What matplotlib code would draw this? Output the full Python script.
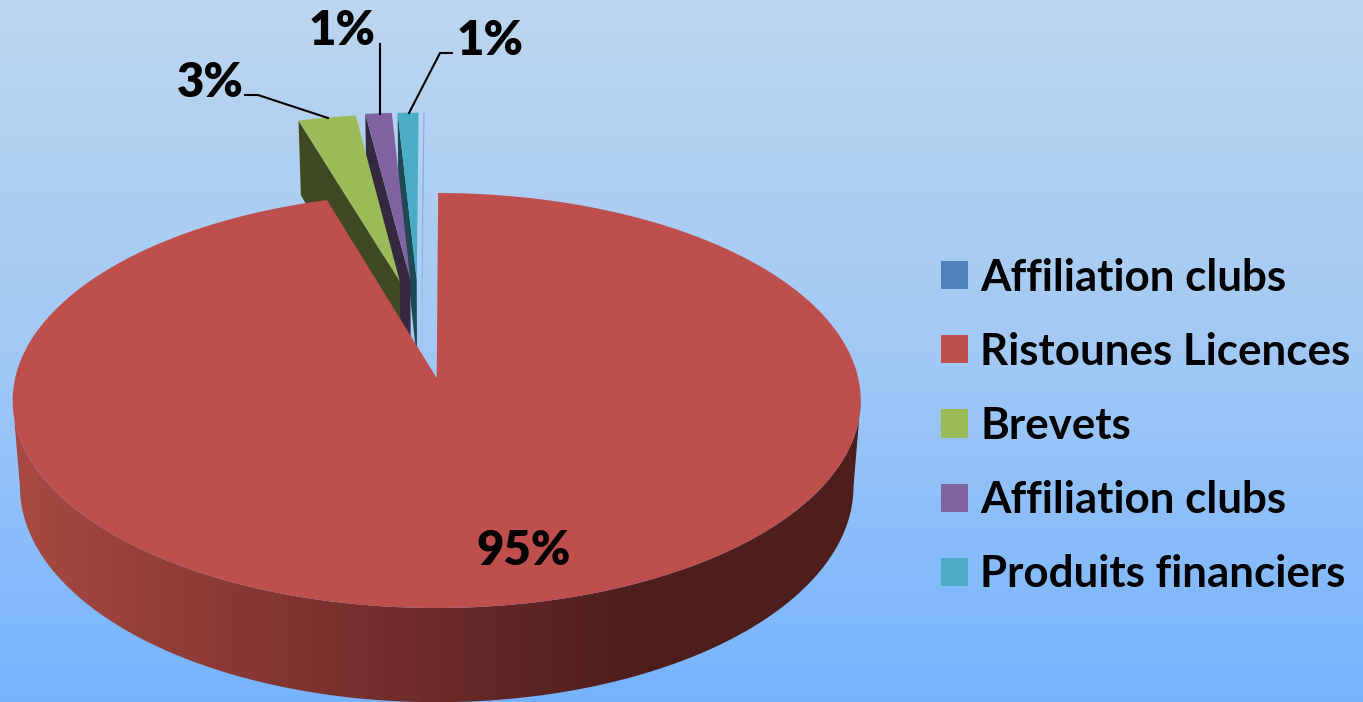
import numpy as np
import matplotlib
matplotlib.use('Agg')
import matplotlib.pyplot as plt
from matplotlib.colors import LinearSegmentedColormap
from matplotlib.patches import Patch, Polygon

# Values
categories = ['Affiliation clubs', 'Ristounes Licences', 'Brevets', 'Affiliation clubs', 'Produits financiers']
values = [0.06, 95.30, 2.55, 1.17, 0.92]
value_labels = ['', '95%', '3%', '1%', '1%']

colors = ['#4F81BD', '#BE4F4C', '#9BBB59', '#8064A2', '#4BACC6']
wall_colors = ['#6F8FBF', '#4D1E1C', '#404A22', '#35293F', '#1F4A55']
# pull of each slice in the plane of the pie
explode = [(-0.037, 0.505), (0.0, 0.0), (-0.092, 0.495), (-0.066, 0.505), (-0.05, 0.505)]

# Perspective of the pie, pixels
CX, CY_TOP, CY_LOW = 436.7, 378.0, 463.0
K, A, B = 0.1084, 421.5, 205.06
SX_LOW, SY_LOW = 0.983, 1.04


def project(x, y, low=False):
    x, y = np.asarray(x, float), np.asarray(y, float)
    w = 1 + K * y
    px, py = A * x / w, B * y / w
    if low:
        return np.column_stack([CX + SX_LOW * px, CY_LOW - SY_LOW * py])
    return np.column_stack([CX + px, CY_TOP - py])


fig = plt.figure(figsize=(13.63, 7.02), dpi=100)
ax = fig.add_axes([0, 0, 1, 1])

# Background
bg = LinearSegmentedColormap.from_list('bg', ['#BCD6EE', '#A2C9F5', '#76B3FF'])
ax.imshow(np.linspace(0, 1, 256).reshape(-1, 1), cmap=bg, extent=[0, 1363, 702, 0],
          aspect='auto', zorder=0)

edges = np.cumsum([0] + values) / sum(values) * 2 * np.pi

# Exploded slices, right to left, then the big one on top
for i in [0, 4, 3, 2]:
    t = np.linspace(edges[i], edges[i + 1], 20)
    ox, oy = explode[i]
    alpha = 0.4 if i == 0 else 1.0
    # cut face on the left side of the slice
    ex, ey = ox + np.sin(t[0]), oy + np.cos(t[0])
    face = np.vstack([project([ox, ex], [oy, ey]),
                      project([ex, ox], [ey, oy], low=True)])
    ax.add_patch(Polygon(face, closed=True, fc=wall_colors[i], ec='none', alpha=alpha, zorder=2))
    top = project(np.r_[ox, ox + np.sin(t)], np.r_[oy, oy + np.cos(t)])
    ax.add_patch(Polygon(top, closed=True, fc=colors[i], ec='none', alpha=alpha, zorder=2))

# Side of the big slice, front half of the rim
t = np.linspace(np.pi + np.arcsin(K), 2 * np.pi - np.arcsin(K), 300)
rim = np.vstack([project(np.cos(t), np.sin(t)), project(np.cos(t[::-1]), np.sin(t[::-1]), low=True)])
wall = Polygon(rim, closed=True, fc='none', ec='none', zorder=3)
ax.add_patch(wall)
wall_cmap = LinearSegmentedColormap.from_list(
    'wall', [(0, '#A84A43'), (0.22, '#8E3B36'), (0.50, '#6B2A28'), (0.74, '#4D1E1C'), (1, '#4D1E1C')])
grad = ax.imshow(np.linspace(0, 1, 256).reshape(1, -1), cmap=wall_cmap, extent=[13, 861, 702, 380],
                 aspect='auto', zorder=3)
grad.set_clip_path(wall)

t = np.linspace(edges[1], edges[2], 400)
top = project(np.r_[0, np.sin(t)], np.r_[0, np.cos(t)])
ax.add_patch(Polygon(top, closed=True, fc=colors[1], ec='none', zorder=4))

# Labels and leader lines
label_font = dict(family='Lato', fontweight='heavy', fontsize=34, color='black',
                  ha='center', va='center', zorder=6)
ax.text(524, 551, value_labels[1], **label_font)
ax.text(210, 83, value_labels[2], **label_font)
ax.text(342, 31, value_labels[3], **label_font)
ax.text(490, 41, value_labels[4], **label_font)
for xs, ys in [([245, 258, 328], [95, 95, 118]),
               ([380, 380], [44, 114]),
               ([452, 440, 409], [53, 53, 113])]:
    ax.plot(xs, ys, color='black', lw=1.5, zorder=5)

# Legend
handles = [Patch(fc=c, ec='none', label=n) for c, n in zip(colors, categories)]
ax.legend(handles=handles, loc='center left', bbox_to_anchor=(941, 426),
          bbox_transform=ax.transData, frameon=False,
          prop=dict(family='Lato', weight='bold', size=31.6),
          handlelength=0.615, handleheight=0.615, handletextpad=0.28,
          labelspacing=0.78, borderpad=0, borderaxespad=0)

ax.set_xlim(0, 1363)
ax.set_ylim(702, 0)
ax.axis('off')

fig.savefig('out.png', dpi=100)
